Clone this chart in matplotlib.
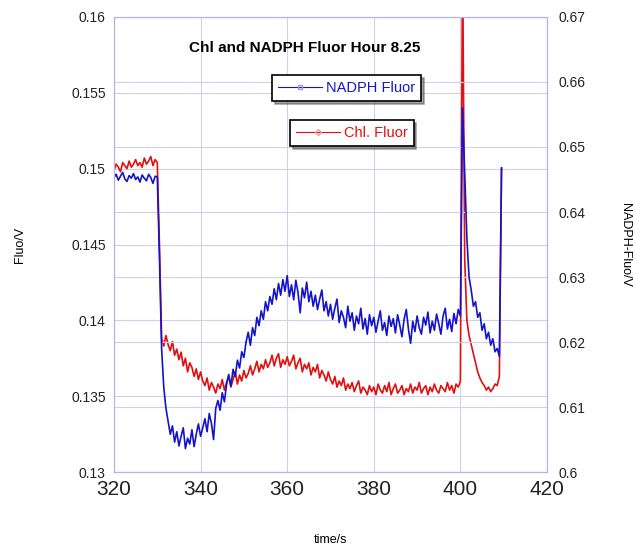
import numpy as np
import matplotlib
matplotlib.use('Agg')
import matplotlib.pyplot as plt
from matplotlib.lines import Line2D

plt.rcParams['font.family'] = ['Liberation Sans', 'DejaVu Sans']

# sample times, 0.5 s apart from 320 s to 409.5 s
time_s = np.arange(320.0, 410.0, 0.5)

# Chl. fluorescence (left axis), one row = 5 s
chl_fluor = [
    0.1499, 0.1503, 0.1501, 0.1498, 0.1504, 0.1502, 0.1500, 0.1505, 0.1501, 0.1503,  # 320
    0.1506, 0.1502, 0.1504, 0.1501, 0.1507, 0.1503, 0.1505, 0.1508, 0.1502, 0.1506,  # 325
    0.1504, 0.1450, 0.1388, 0.1383, 0.1390, 0.1384, 0.1380, 0.1386, 0.1377, 0.1381,  # 330
    0.1374, 0.1379, 0.1370, 0.1375, 0.1366, 0.1372, 0.1369, 0.1363, 0.1368, 0.1361,  # 335
    0.1366, 0.1360, 0.1357, 0.1362, 0.1354, 0.1359, 0.1356, 0.1352, 0.1358, 0.1355,  # 340
    0.1361, 0.1354, 0.1359, 0.1363, 0.1356, 0.1361, 0.1366, 0.1358, 0.1364, 0.1360,  # 345
    0.1367, 0.1362, 0.1365, 0.1370, 0.1364, 0.1368, 0.1373, 0.1366, 0.1371, 0.1368,  # 350
    0.1374, 0.1369, 0.1372, 0.1377, 0.1370, 0.1375, 0.1378, 0.1369, 0.1374, 0.1371,  # 355
    0.1376, 0.1370, 0.1373, 0.1377, 0.1368, 0.1372, 0.1375, 0.1366, 0.1371, 0.1368,  # 360
    0.1372, 0.1364, 0.1369, 0.1366, 0.1371, 0.1362, 0.1367, 0.1364, 0.1360, 0.1366,  # 365
    0.1361, 0.1358, 0.1363, 0.1356, 0.1360, 0.1357, 0.1362, 0.1354, 0.1358, 0.1355,  # 370
    0.1359, 0.1353, 0.1357, 0.1360, 0.1352, 0.1356, 0.1354, 0.1351, 0.1357, 0.1353,  # 375
    0.1356, 0.1351, 0.1358, 0.1354, 0.1352, 0.1357, 0.1353, 0.1359, 0.1351, 0.1355,  # 380
    0.1358, 0.1352, 0.1354, 0.1357, 0.1351, 0.1355, 0.1353, 0.1358, 0.1352, 0.1356,  # 385
    0.1354, 0.1359, 0.1352, 0.1355, 0.1357, 0.1351, 0.1356, 0.1353, 0.1358, 0.1354,  # 390
    0.1352, 0.1357, 0.1355, 0.1353, 0.1359, 0.1354, 0.1357, 0.1352, 0.1358, 0.1356,  # 395
    0.1360, 0.1640, 0.1440, 0.1400, 0.1390, 0.1384, 0.1378, 0.1372, 0.1366, 0.1362,  # 400
    0.1359, 0.1357, 0.1354, 0.1356, 0.1353, 0.1355, 0.1358, 0.1357, 0.1363, 0.1500,  # 405
]

# NADPH fluorescence (right axis)
nadph_fluor = [
    0.6453, 0.6458, 0.6449, 0.6455, 0.6461, 0.6451, 0.6447, 0.6456, 0.6452, 0.6459,  # 320
    0.6450, 0.6454, 0.6446, 0.6457, 0.6452, 0.6448, 0.6458, 0.6453, 0.6444, 0.6455,  # 325
    0.6454, 0.6330, 0.6190, 0.6130, 0.6098, 0.6078, 0.6058, 0.6071, 0.6046, 0.6062,  # 330
    0.6040, 0.6055, 0.6068, 0.6036, 0.6052, 0.6043, 0.6065, 0.6039, 0.6058, 0.6074,  # 335
    0.6055, 0.6068, 0.6082, 0.6062, 0.6090, 0.6075, 0.6050, 0.6098, 0.6110, 0.6095,  # 340
    0.6122, 0.6108, 0.6135, 0.6150, 0.6132, 0.6158, 0.6147, 0.6172, 0.6160, 0.6185,  # 345
    0.6176, 0.6200, 0.6215, 0.6195, 0.6222, 0.6210, 0.6238, 0.6225, 0.6248, 0.6235,  # 350
    0.6262, 0.6248, 0.6270, 0.6258, 0.6282, 0.6265, 0.6290, 0.6272, 0.6296, 0.6278,  # 355
    0.6302, 0.6270, 0.6288, 0.6265, 0.6295, 0.6276, 0.6245, 0.6283, 0.6268, 0.6292,  # 360
    0.6262, 0.6278, 0.6255, 0.6272, 0.6250, 0.6266, 0.6280, 0.6248, 0.6262, 0.6240,  # 365
    0.6258, 0.6235, 0.6252, 0.6266, 0.6230, 0.6248, 0.6238, 0.6222, 0.6255, 0.6232,  # 370
    0.6245, 0.6218, 0.6240, 0.6228, 0.6252, 0.6220, 0.6236, 0.6212, 0.6242, 0.6225,  # 375
    0.6238, 0.6215, 0.6232, 0.6248, 0.6218, 0.6230, 0.6210, 0.6240, 0.6224, 0.6236,  # 380
    0.6214, 0.6242, 0.6226, 0.6208, 0.6235, 0.6250, 0.6220, 0.6198, 0.6232, 0.6216,  # 385
    0.6240, 0.6222, 0.6212, 0.6238, 0.6226, 0.6246, 0.6214, 0.6232, 0.6218, 0.6243,  # 390
    0.6228, 0.6212, 0.6240, 0.6252, 0.6220, 0.6235, 0.6216, 0.6244, 0.6228, 0.6250,  # 395
    0.6240, 0.6560, 0.6460, 0.6360, 0.6300, 0.6280, 0.6255, 0.6262, 0.6238, 0.6245,  # 400
    0.6218, 0.6228, 0.6205, 0.6215, 0.6195, 0.6205, 0.6185, 0.6190, 0.6178, 0.6468,  # 405
]

x_ticks = [320, 340, 360, 380, 400, 420]
left_ticks = [0.13, 0.135, 0.14, 0.145, 0.15, 0.155, 0.16]
right_ticks = [0.6, 0.61, 0.62, 0.63, 0.64, 0.65, 0.66, 0.67]

red = '#e01010'
blue = '#1414c8'
gridc = '#cfcfef'
spinec = '#b4b4e4'

fig = plt.figure(figsize=(6.35, 5.5), dpi=100)
ax = fig.add_axes([0.1795, 0.1418, 0.6819, 0.8273])
ax2 = ax.twinx()

ax.plot(time_s, chl_fluor, color=red, lw=1.2)
ax2.plot(time_s, nadph_fluor, color=blue, lw=1.2)

ax.set_xlim(320, 420)
ax.set_ylim(0.13, 0.16)
ax2.set_ylim(0.6, 0.67)
ax.set_xticks(x_ticks)
ax.set_xticklabels([str(v) for v in x_ticks], fontsize=15, color='#222222')
ax.set_yticks(left_ticks)
ax.set_yticklabels(['0.13', '0.135', '0.14', '0.145', '0.15', '0.155', '0.16'],
                   fontsize=10, color='#222222')
ax2.set_yticks(right_ticks)
ax2.set_yticklabels(['0.6', '0.61', '0.62', '0.63', '0.64', '0.65', '0.66', '0.67'],
                    fontsize=10, color='#222222')

ax.tick_params(axis='both', length=0)
ax.tick_params(axis='y', pad=6)
ax.tick_params(axis='x', pad=6)
ax2.tick_params(axis='y', length=0, pad=8)

ax.grid(True, color=gridc, lw=0.8)
ax2.grid(True, axis='y', color=gridc, lw=0.8)
ax.set_axisbelow(True)
for a in (ax, ax2):
    for s in a.spines.values():
        s.set_color(spinec)
        s.set_linewidth(0.8)

ax.set_xlabel('time/s', fontsize=9, va='center')
ax.xaxis.set_label_coords(0.5, -0.15)
ax.set_ylabel('Fluo/V', fontsize=9, va='center')
ax.yaxis.set_label_coords(-0.218, 0.5)
ax2.set_ylabel('NADPH-Fluo/V', fontsize=9, rotation=270, va='center')
ax2.yaxis.set_label_coords(1.18, 0.5)

ax.text(0.44, 0.932, 'Chl and NADPH Fluor Hour 8.25', transform=ax.transAxes,
        ha='center', va='center', fontsize=11, fontweight='bold', zorder=5)

h_nadph = Line2D([], [], color=blue, lw=0.8, marker='s', markersize=3.5,
                 markerfacecolor='none', markeredgecolor='#9a9ae0')
h_chl = Line2D([], [], color=red, lw=0.8, marker='D', markersize=3,
               markerfacecolor='none', markeredgecolor='#f09a9a')

leg1 = ax2.legend([h_nadph], ['NADPH Fluor'], loc='upper left',
                  bbox_to_anchor=(0.348, 0.888), fontsize=10.5, fancybox=False,
                  shadow=True, framealpha=1, edgecolor='black',
                  handlelength=3.0, borderpad=0.4, handletextpad=0.3)
leg1.get_frame().set_linewidth(1.2)
leg1.get_texts()[0].set_color(blue)
ax2.add_artist(leg1)

leg2 = ax2.legend([h_chl], ['Chl. Fluor'], loc='upper left',
                  bbox_to_anchor=(0.390, 0.789), fontsize=10.5, fancybox=False,
                  shadow=True, framealpha=1, edgecolor='black',
                  handlelength=3.0, borderpad=0.4, handletextpad=0.3)
leg2.get_frame().set_linewidth(1.2)
leg2.get_texts()[0].set_color(red)

fig.savefig('out.png', dpi=100)
